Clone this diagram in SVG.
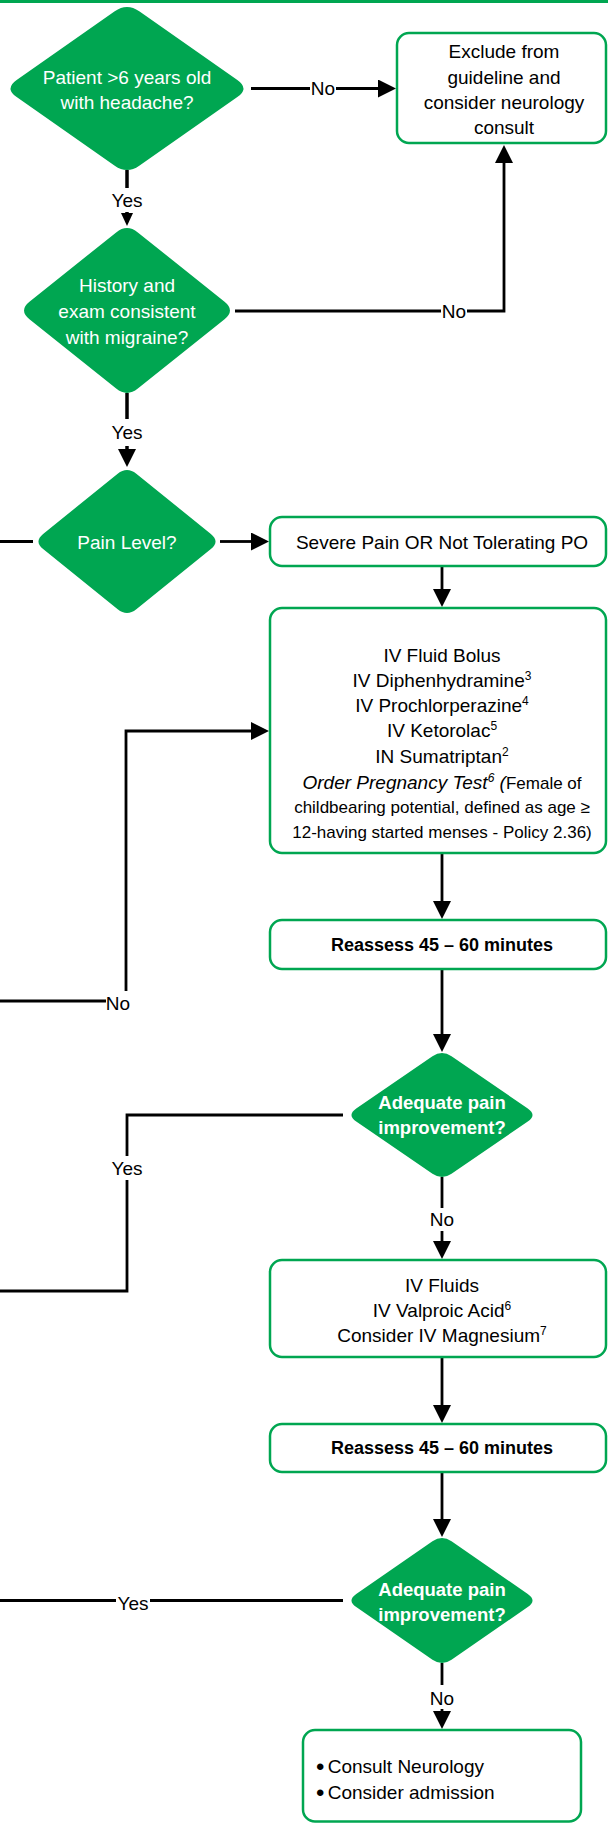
<svg xmlns="http://www.w3.org/2000/svg" width="608" height="1823" viewBox="0 0 608 1823">
<style>
.d{fill:#00A651;}
.b{fill:#fff;stroke:#00A651;stroke-width:2.5;}
.t{font-family:"Liberation Sans",Arial,sans-serif;font-size:19px;text-anchor:middle;fill:#000;}
.w{fill:#fff;}
.bold{font-weight:bold;font-size:18px;}
.sm{font-size:17px;}
.sup{font-size:12px;}
.bul{font-size:24px;}
.c{fill:none;stroke:#000;stroke-width:2.8;}
.lb{fill:#fff;stroke:none;}
</style>
<defs>
<marker id="ah" markerUnits="userSpaceOnUse" viewBox="0 0 18 18" markerWidth="18" markerHeight="18" refX="1" refY="9" orient="auto">
<path d="M0,0 L18,9 L0,18 Z" fill="#000"/>
</marker>
<marker id="ahs" markerUnits="userSpaceOnUse" viewBox="0 0 13 12" markerWidth="13" markerHeight="12" refX="1" refY="6" orient="auto">
<path d="M0,0 L13,6 L0,12 Z" fill="#000"/>
</marker>
</defs>
<rect x="0" y="0" width="608" height="3" fill="#00A651"/>

<g id="connectors">
<path class="c" d="M251,88.5 H379" marker-end="url(#ah)"/>
<rect class="lb" x="310" y="78" width="26" height="21"/>
<text class="t" x="323" y="95">No</text>

<path class="c" d="M127,170 V214" marker-end="url(#ahs)" style="stroke-width:3.5"/>
<rect class="lb" x="110" y="188" width="34" height="24"/>
<text class="t" x="127" y="207">Yes</text>

<path class="c" d="M235,311 H504 V162" marker-end="url(#ah)"/>
<rect class="lb" x="441" y="300" width="26" height="22"/>
<text class="t" x="454" y="318">No</text>

<path class="c" d="M127,393 V450" marker-end="url(#ah)" style="stroke-width:3.5"/>
<rect class="lb" x="110" y="419" width="34" height="27"/>
<text class="t" x="127" y="439">Yes</text>

<path class="c" d="M0,541.5 H33"/>
<path class="c" d="M220,541.5 H252" marker-end="url(#ah)"/>
<path class="c" d="M442,566 V590" marker-end="url(#ah)"/>

<path class="c" d="M0,1001 H126 V731 H252" marker-end="url(#ah)"/>
<rect class="lb" x="106" y="991" width="25" height="22"/>
<text class="t" x="118" y="1010">No</text>

<path class="c" d="M442,969 V1035" marker-end="url(#ah)"/>
<path class="c" d="M442,853 V902" marker-end="url(#ah)"/>

<path class="c" d="M343,1115 H127 V1291 H0"/>
<rect class="lb" x="110" y="1156" width="34" height="24"/>
<text class="t" x="127" y="1175">Yes</text>

<path class="c" d="M442,1177 V1242" marker-end="url(#ah)"/>
<rect class="lb" x="429" y="1208" width="26" height="23"/>
<text class="t" x="442" y="1226">No</text>

<path class="c" d="M442,1357 V1406" marker-end="url(#ah)"/>
<path class="c" d="M442,1472 V1520" marker-end="url(#ah)"/>

<path class="c" d="M343,1600.5 H0"/>
<rect class="lb" x="116" y="1592" width="34" height="22"/>
<text class="t" x="133" y="1610">Yes</text>

<path class="c" d="M442,1663 V1712" marker-end="url(#ah)"/>
<rect class="lb" x="429" y="1685" width="26" height="24"/>
<text class="t" x="442" y="1705">No</text>
</g>

<g id="d1">
<path class="d" d="M16.66,79.92 L114.74,11.28 Q127,2.7 139.26,11.28 L237.34,79.92 Q249.6,88.5 237.34,97.08 L139.26,165.72 Q127,174.3 114.74,165.72 L16.66,97.08 Q4.4,88.5 16.66,79.92 Z"/>
<text class="t w" x="127" y="84">Patient &gt;6 years old</text>
<text class="t w" x="127" y="109">with headache?</text>
</g>

<g id="box1">
<rect class="b" x="397" y="33" width="209" height="110" rx="12"/>
<text class="t" x="504" y="58">Exclude from</text>
<text class="t" x="504" y="83.5">guideline and</text>
<text class="t" x="504" y="109">consider neurology</text>
<text class="t" x="504" y="134">consult</text>
</g>

<g id="d2">
<path class="d" d="M29.44,301.82 L116.16,232.38 Q127,223.7 137.84,232.38 L224.56,301.82 Q235.4,310.5 224.56,319.18 L137.84,388.62 Q127,397.3 116.16,388.62 L29.44,319.18 Q18.6,310.5 29.44,301.82 Z"/>
<text class="t w" x="127" y="292">History and</text>
<text class="t w" x="127" y="318">exam consistent</text>
<text class="t w" x="127" y="344">with migraine?</text>
</g>

<g id="d3">
<path class="d" d="M43.12,533.97 L117.68,473.73 Q127,466.2 136.32,473.73 L210.88,533.97 Q220.2,541.5 210.88,549.03 L136.32,609.27 Q127,616.8 117.68,609.27 L43.12,549.03 Q33.8,541.5 43.12,533.97 Z"/>
<text class="t w" x="127" y="548.5">Pain Level?</text>
</g>

<g id="severe">
<rect class="b" x="270" y="517" width="336" height="49" rx="12"/>
<text class="t" x="442" y="548.5">Severe Pain OR Not Tolerating PO</text>
</g>

<g id="treat1">
<rect class="b" x="270" y="608" width="336" height="245" rx="12"/>
<text class="t" x="442" y="662">IV Fluid Bolus</text>
<text class="t" x="442" y="687">IV Diphenhydramine<tspan class="sup" dy="-7">3</tspan></text>
<text class="t" x="442" y="712">IV Prochlorperazine<tspan class="sup" dy="-7">4</tspan></text>
<text class="t" x="442" y="737">IV Ketorolac<tspan class="sup" dy="-7">5</tspan></text>
<text class="t" x="442" y="763">IN Sumatriptan<tspan class="sup" dy="-7">2</tspan></text>
<text class="t" x="442" y="789"><tspan font-style="italic">Order Pregnancy Test</tspan><tspan class="sup" font-style="italic" dy="-7">6</tspan><tspan font-style="italic" dy="7"> (</tspan><tspan class="sm">Female of</tspan></text>
<text class="t sm" x="442" y="813">childbearing potential, defined as age ≥</text>
<text class="t sm" x="442" y="838">12-having started menses - Policy 2.36)</text>
</g>

<g id="reassess1">
<rect class="b" x="270" y="920" width="336" height="49" rx="12"/>
<text class="t bold" x="442" y="950.5">Reassess 45 – 60 minutes</text>
</g>

<g id="d4">
<path class="d" d="M356.23,1108.47 L432.47,1056.23 Q442,1049.7 451.53,1056.23 L527.77,1108.47 Q537.3,1115 527.77,1121.53 L451.53,1173.77 Q442,1180.3 432.47,1173.77 L356.23,1121.53 Q346.7,1115 356.23,1108.47 Z"/>
<text class="t w bold" x="442" y="1109" style="font-size:18.5px">Adequate pain</text>
<text class="t w bold" x="442" y="1134" style="font-size:18.5px">improvement?</text>
</g>

<g id="treat2">
<rect class="b" x="270" y="1260" width="336" height="97" rx="12"/>
<text class="t" x="442" y="1292">IV Fluids</text>
<text class="t" x="442" y="1317">IV Valproic Acid<tspan class="sup" dy="-7">6</tspan></text>
<text class="t" x="442" y="1342">Consider IV Magnesium<tspan class="sup" dy="-7">7</tspan></text>
</g>

<g id="reassess2">
<rect class="b" x="270" y="1424" width="336" height="48" rx="12"/>
<text class="t bold" x="442" y="1454">Reassess 45 – 60 minutes</text>
</g>

<g id="d5">
<path class="d" d="M356.23,1593.92 L432.47,1541.28 Q442,1534.7 451.53,1541.28 L527.77,1593.92 Q537.3,1600.5 527.77,1607.08 L451.53,1659.72 Q442,1666.3 432.47,1659.72 L356.23,1607.08 Q346.7,1600.5 356.23,1593.92 Z"/>
<text class="t w bold" x="442" y="1595.5" style="font-size:18.5px">Adequate pain</text>
<text class="t w bold" x="442" y="1620.5" style="font-size:18.5px">improvement?</text>
</g>

<g id="final">
<rect class="b" x="303" y="1730" width="278" height="91.5" rx="12"/>
<text class="t" x="316" y="1775" style="text-anchor:start"><tspan class="bul">•</tspan><tspan x="327.7" dy="-2">Consult Neurology</tspan></text>
<text class="t" x="316" y="1800.5" style="text-anchor:start"><tspan class="bul">•</tspan><tspan x="327.7" dy="-2">Consider admission</tspan></text>
</g>
</svg>
